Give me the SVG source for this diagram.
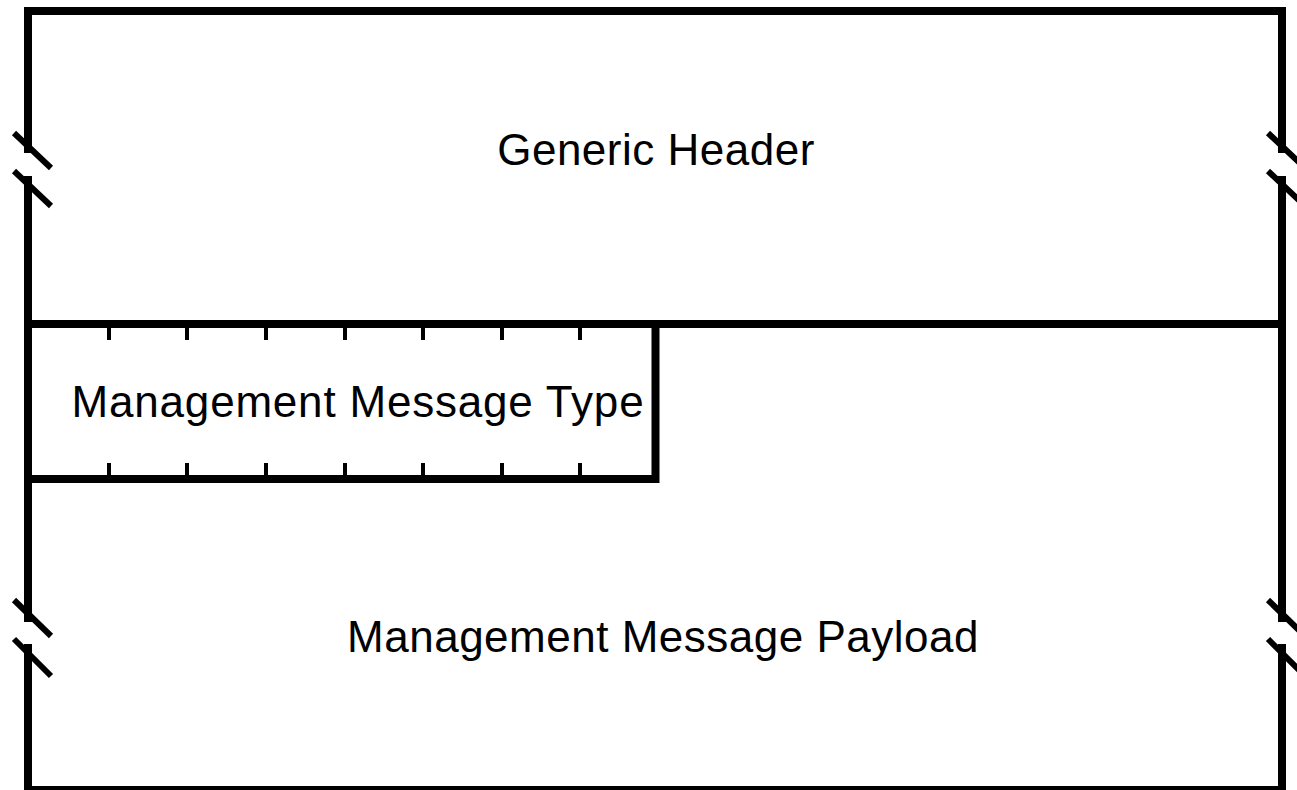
<svg xmlns="http://www.w3.org/2000/svg" width="1297" height="790" viewBox="0 0 1297 790">
<style>
.frame{stroke:#000;stroke-width:8;fill:none;stroke-linecap:square}
.slash{stroke:#000;stroke-width:6;fill:none}
.tick{stroke:#000;stroke-width:4;fill:none}
.lbl{font-family:"Liberation Sans",Arial,sans-serif;font-size:44px;letter-spacing:0.5px;fill:#000;text-anchor:middle}
</style>
<rect width="1297" height="790" fill="#fff"/>
<g id="frame">
<path class="frame" d="M28,149 V11 H1282 V149 M28,180 V618 M1282,180 V618 M28,648 V790 H1282 V648"/>
<path class="frame" d="M28,324 H1282"/>
</g>
<g id="breaks">
<path class="slash" d="M14,133 L51,168 M14,171 L51,206 M1268,133 L1305,168 M1268,171 L1305,206"/>
<path class="slash" d="M14,600 L51,636 M14,639 L51,676 M1268,600 L1305,636 M1268,639 L1305,676"/>
</g>
<g id="header">
<text class="lbl" x="656" y="165">Generic Header</text>
</g>
<g id="type">
<path class="frame" d="M28,479 H655.5 V324"/>
<path class="tick" d="M109,328 V340 M187,328 V340 M266,328 V340 M345,328 V340 M423,328 V340 M502,328 V340 M580,328 V340"/>
<path class="tick" d="M109,463 V475 M187,463 V475 M266,463 V475 M345,463 V475 M423,463 V475 M502,463 V475 M580,463 V475"/>
<text class="lbl" x="358" y="417" style="letter-spacing:0.8px">Management Message Type</text>
</g>
<g id="payload">
<text class="lbl" x="663" y="652">Management Message Payload</text>
</g>
</svg>
